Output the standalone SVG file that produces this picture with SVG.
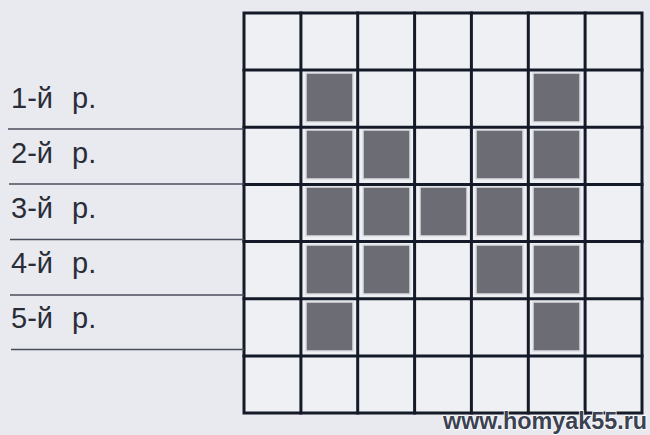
<svg xmlns="http://www.w3.org/2000/svg" width="650" height="435" viewBox="0 0 650 435">
  <style>
    .lbl { font-family: "Liberation Sans", Arial, sans-serif; font-size: 29px; fill: #2a2d38; }
    .rule { stroke: #4a4e5c; stroke-width: 1.6; fill: none; }
    .grid { stroke: #151a28; stroke-width: 3; fill: none; stroke-linecap: square; }
    .on { fill: #6c6d74; stroke: #dcdde2; stroke-width: 1.5; }
    .wm { font-family: "Liberation Sans", Arial, sans-serif; font-weight: bold; font-size: 23px; fill: #3b4252; stroke: #ffffff; stroke-width: 1.4; paint-order: stroke; }
  </style>
  <rect width="650" height="435" fill="#e9eaef"/>
  <g id="board">
    <rect x="244" y="13" width="398" height="400" fill="#eef0f4"/>
  </g>
  <g id="cells">
    <!-- row 1 -->
    <rect class="on" x="306" y="73" width="47" height="49"/>
    <rect class="on" x="533" y="73" width="47" height="49"/>
    <!-- row 2 -->
    <rect class="on" x="306" y="130" width="47" height="49"/>
    <rect class="on" x="363" y="130" width="47" height="49"/>
    <rect class="on" x="476" y="130" width="47" height="49"/>
    <rect class="on" x="533" y="130" width="47" height="49"/>
    <!-- row 3 -->
    <rect class="on" x="306" y="187" width="47" height="49"/>
    <rect class="on" x="363" y="187" width="47" height="49"/>
    <rect class="on" x="420" y="187" width="47" height="49"/>
    <rect class="on" x="476" y="187" width="47" height="49"/>
    <rect class="on" x="533" y="187" width="47" height="49"/>
    <!-- row 4 -->
    <rect class="on" x="306" y="245" width="47" height="49"/>
    <rect class="on" x="363" y="245" width="47" height="49"/>
    <rect class="on" x="476" y="245" width="47" height="49"/>
    <rect class="on" x="533" y="245" width="47" height="49"/>
    <!-- row 5 -->
    <rect class="on" x="306" y="302" width="47" height="49"/>
    <rect class="on" x="533" y="302" width="47" height="49"/>
  </g>
  <g id="grid" class="grid">
    <rect x="244" y="13" width="398" height="400"/>
    <line x1="300.9" y1="13" x2="300.9" y2="413"/>
    <line x1="357.7" y1="13" x2="357.7" y2="413"/>
    <line x1="414.6" y1="13" x2="414.6" y2="413"/>
    <line x1="471.4" y1="13" x2="471.4" y2="413"/>
    <line x1="528.3" y1="13" x2="528.3" y2="413"/>
    <line x1="585.1" y1="13" x2="585.1" y2="413"/>
    <line x1="244" y1="70.1" x2="642" y2="70.1"/>
    <line x1="244" y1="127.3" x2="642" y2="127.3"/>
    <line x1="244" y1="184.4" x2="642" y2="184.4"/>
    <line x1="244" y1="241.6" x2="642" y2="241.6"/>
    <line x1="244" y1="298.7" x2="642" y2="298.7"/>
    <line x1="244" y1="355.9" x2="642" y2="355.9"/>
  </g>
  <g id="rules" class="rule">
    <line x1="8" y1="129" x2="244" y2="129"/>
    <line x1="9" y1="184" x2="244" y2="184"/>
    <line x1="10" y1="239.5" x2="244" y2="239.5"/>
    <line x1="10" y1="295" x2="244" y2="295"/>
    <line x1="11" y1="349.5" x2="244" y2="349.5"/>
  </g>
  <g id="row1"><text class="lbl" x="11" y="108">1-й<tspan x="72">р.</tspan></text></g>
  <g id="row2"><text class="lbl" x="11" y="163">2-й<tspan x="72">р.</tspan></text></g>
  <g id="row3"><text class="lbl" x="11" y="218">3-й<tspan x="72">р.</tspan></text></g>
  <g id="row4"><text class="lbl" x="11" y="273">4-й<tspan x="72">р.</tspan></text></g>
  <g id="row5"><text class="lbl" x="11" y="328">5-й<tspan x="72">р.</tspan></text></g>
  <g id="watermark"><text class="wm" x="443" y="429" textLength="204" lengthAdjust="spacingAndGlyphs">www.homyak55.ru</text></g>
</svg>
